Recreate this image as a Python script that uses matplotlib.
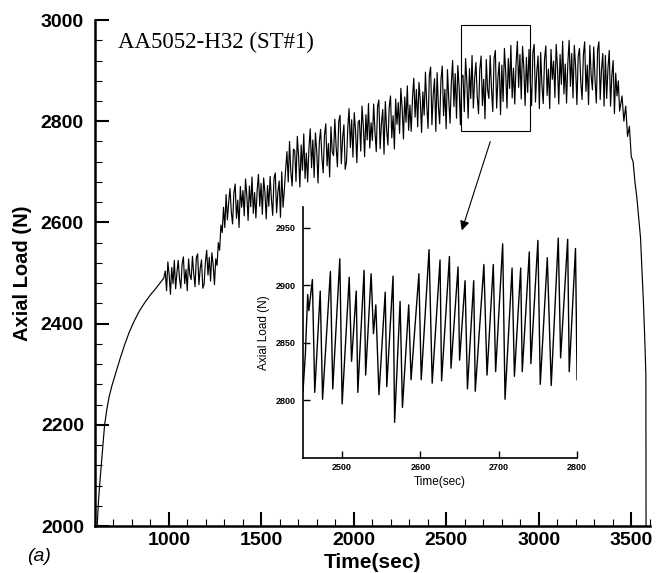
import numpy as np
import matplotlib
matplotlib.use('Agg')
import matplotlib.pyplot as plt
from matplotlib.patches import Rectangle
from matplotlib.ticker import MultipleLocator

plt.rcParams['font.family'] = ['Liberation Sans', 'DejaVu Sans']
plt.rcParams['font.weight'] = 'bold'

# smooth loading at the start of the test
ramp_time = [612, 616, 620, 626, 634, 643, 652, 663, 676, 692, 712, 735, 760, 785,
             812, 840, 870, 900, 930, 955, 972]
ramp_load = [2000, 2030, 2055, 2085, 2120, 2160, 2200, 2228, 2255, 2278, 2302, 2330, 2358, 2383,
             2405, 2425, 2442, 2457, 2470, 2482, 2490]

# noisy part, one reading every 7 s starting at 980 s
cyc_start = 980
cyc_step = 7
cyc_load = [
    2504, 2465, 2522, 2497, 2458, 2511, 2479, 2525, 2469, 2501,
    2525, 2489, 2470, 2518, 2532, 2479, 2507, 2465, 2528, 2496,
    2487, 2533, 2498, 2473, 2530, 2538, 2477, 2509, 2526, 2470,
    2478, 2521, 2545, 2496, 2531, 2484, 2540, 2517, 2477, 2528,
    2515, 2560, 2545, 2595, 2580, 2630, 2590, 2655, 2605, 2640,
    2667, 2621, 2597, 2658, 2676, 2608, 2644, 2590, 2671, 2630,
    2663, 2613, 2686, 2654, 2604, 2672, 2631, 2690, 2618, 2659,
    2609, 2664, 2695, 2632, 2677, 2616, 2688, 2659, 2607, 2673,
    2632, 2691, 2646, 2614, 2687, 2698, 2619, 2660, 2682, 2610,
    2700, 2630, 2665, 2705, 2740, 2680, 2760, 2700, 2672, 2745,
    2742, 2681, 2770, 2731, 2670, 2753, 2703, 2775, 2687, 2737,
    2680, 2747, 2785, 2708, 2763, 2689, 2777, 2741, 2678, 2758,
    2784, 2728, 2698, 2773, 2795, 2712, 2756, 2690, 2789, 2739,
    2732, 2804, 2749, 2710, 2799, 2812, 2716, 2766, 2793, 2705,
    2720, 2787, 2825, 2748, 2803, 2729, 2817, 2781, 2718, 2798,
    2802, 2741, 2830, 2791, 2730, 2813, 2763, 2835, 2747, 2797,
    2762, 2834, 2779, 2740, 2829, 2842, 2746, 2796, 2823, 2735,
    2839, 2783, 2753, 2828, 2850, 2767, 2811, 2745, 2844, 2794,
    2837, 2776, 2865, 2826, 2765, 2848, 2798, 2870, 2782, 2832,
    2780, 2847, 2885, 2808, 2863, 2789, 2877, 2841, 2778, 2858,
    2812, 2897, 2832, 2786, 2891, 2907, 2793, 2852, 2884, 2780,
    2896, 2830, 2795, 2883, 2909, 2811, 2863, 2785, 2902, 2843,
    2796, 2875, 2920, 2829, 2894, 2806, 2910, 2868, 2793, 2888,
    2891, 2819, 2924, 2878, 2806, 2904, 2845, 2930, 2826, 2885,
    2916, 2850, 2815, 2903, 2929, 2831, 2883, 2805, 2922, 2863,
    2845, 2930, 2865, 2819, 2924, 2940, 2826, 2885, 2917, 2813,
    2911, 2839, 2944, 2898, 2826, 2924, 2865, 2950, 2846, 2905,
    2834, 2913, 2958, 2867, 2932, 2844, 2948, 2906, 2831, 2926,
    2857, 2942, 2877, 2831, 2936, 2952, 2838, 2897, 2929, 2825,
    2936, 2870, 2835, 2923, 2949, 2851, 2903, 2825, 2942, 2883,
    2919, 2847, 2952, 2906, 2834, 2932, 2873, 2958, 2854, 2913,
    2836, 2915, 2960, 2869, 2934, 2846, 2950, 2908, 2833, 2928,
    2944, 2878, 2843, 2931, 2957, 2859, 2911, 2833, 2950, 2891,
    2862, 2947, 2882, 2836, 2941, 2957, 2843, 2902, 2934, 2830,
    2930, 2845, 2905, 2940, 2830, 2890, 2920, 2815, 2895, 2850,
    2880, 2820,
]

# unloading / fracture at the end
drop_time = [3450, 3460, 3470, 3480, 3490, 3500, 3510, 3520, 3530, 3540, 3550, 3560, 3566, 3572, 3579, 3580]
drop_load = [2850, 2800, 2830, 2770, 2790, 2730, 2720, 2680, 2650, 2610, 2570, 2490, 2440, 2380, 2300, 2000]

# zoomed window 2450-2800 s, peaks and valleys
zoom_time = [2450, 2453, 2456, 2457.5, 2462, 2465, 2472, 2475, 2485, 2488,
             2497, 2500, 2509, 2512, 2518, 2520, 2528, 2530, 2537, 2540,
             2543, 2547, 2555, 2557, 2565, 2567, 2574, 2577, 2585, 2588,
             2598, 2601, 2611, 2615, 2625, 2627, 2637, 2639, 2648, 2650,
             2657, 2660, 2668, 2670, 2681, 2685, 2693, 2696, 2705, 2708,
             2717, 2720, 2728, 2730, 2739, 2741, 2750, 2753, 2762, 2767,
             2776, 2779, 2788, 2790, 2798, 2800]
zoom_load = [2808, 2840, 2892, 2878, 2905, 2807, 2895, 2801, 2912, 2810,
             2923, 2797, 2907, 2834, 2895, 2807, 2913, 2822, 2910, 2858,
             2883, 2805, 2894, 2812, 2908, 2781, 2886, 2794, 2883, 2818,
             2910, 2818, 2931, 2815, 2922, 2817, 2925, 2828, 2916, 2835,
             2904, 2810, 2904, 2808, 2918, 2822, 2918, 2825, 2936, 2801,
             2915, 2821, 2915, 2825, 2929, 2832, 2939, 2814, 2924, 2813,
             2941, 2837, 2940, 2825, 2932, 2818]

cyc_time = cyc_start + cyc_step * np.arange(len(cyc_load))
t_all = np.concatenate([ramp_time, cyc_time, drop_time])
load_all = np.concatenate([ramp_load, cyc_load, drop_load])

fig = plt.figure(figsize=(6.62, 5.73), dpi=100)
ax = fig.add_axes([0.1435, 0.082, 0.838, 0.883])
ax.plot(t_all, load_all, color='black', lw=0.85)

ax.set_xlim(600, 3600)
ax.set_ylim(2000, 3000)
ax.xaxis.set_major_locator(MultipleLocator(500))
ax.xaxis.set_minor_locator(MultipleLocator(100))
ax.yaxis.set_major_locator(MultipleLocator(200))
ax.yaxis.set_minor_locator(MultipleLocator(40))
ax.spines['top'].set_visible(False)
ax.spines['right'].set_visible(False)
for s in ['left', 'bottom']:
    ax.spines[s].set_linewidth(1.8)
ax.tick_params(which='major', direction='in', length=10, width=1.5, labelsize=14)
ax.tick_params(which='minor', direction='in', length=5, width=0.8)
ax.tick_params(axis='y', pad=8)
ax.tick_params(axis='x', pad=4)
ax.set_xlabel('Time(sec)', fontsize=15, fontweight='bold', labelpad=3)
ax.set_ylabel('Axial Load (N)', fontsize=14.5, fontweight='bold', labelpad=6)

ax.text(724, 2956, 'AA5052-H32 (ST#1)', family='Liberation Serif', fontweight='normal',
        fontsize=16.5, va='center', ha='left')
fig.text(0.041, 0.028, '(a)', fontsize=14, fontstyle='italic', fontweight='normal', va='center')

# box around the zoomed region and the arrow to the inset
ax.add_patch(Rectangle((2580, 2781), 375, 209, fill=False, edgecolor='black', lw=0.8))
ax.annotate('', xy=(2579, 2579), xytext=(2742, 2765),
            arrowprops=dict(arrowstyle='-|>', color='black', lw=0.8, mutation_scale=14))

# inset
axi = fig.add_axes([0.4577, 0.2007, 0.414, 0.438])
axi.patch.set_alpha(0)
axi.plot(zoom_time, zoom_load, color='black', lw=1.0)
axi.set_xlim(2450, 2800)
axi.set_ylim(2750, 2968)
axi.set_xticks([2500, 2600, 2700, 2800])
axi.set_yticks([2800, 2850, 2900, 2950])
axi.spines['top'].set_visible(False)
axi.spines['right'].set_visible(False)
for s in ['left', 'bottom']:
    axi.spines[s].set_linewidth(1.2)
axi.tick_params(direction='in', length=5, width=1.0, labelsize=6.5)
axi.tick_params(axis='y', pad=5)
axi.tick_params(axis='x', pad=3.5)
axi.set_xlabel('Time(sec)', fontsize=8.5, fontweight='normal', labelpad=3)
axi.set_ylabel('Axial Load (N)', fontsize=8.5, fontweight='normal', labelpad=4)

fig.savefig('out.png', dpi=100)
